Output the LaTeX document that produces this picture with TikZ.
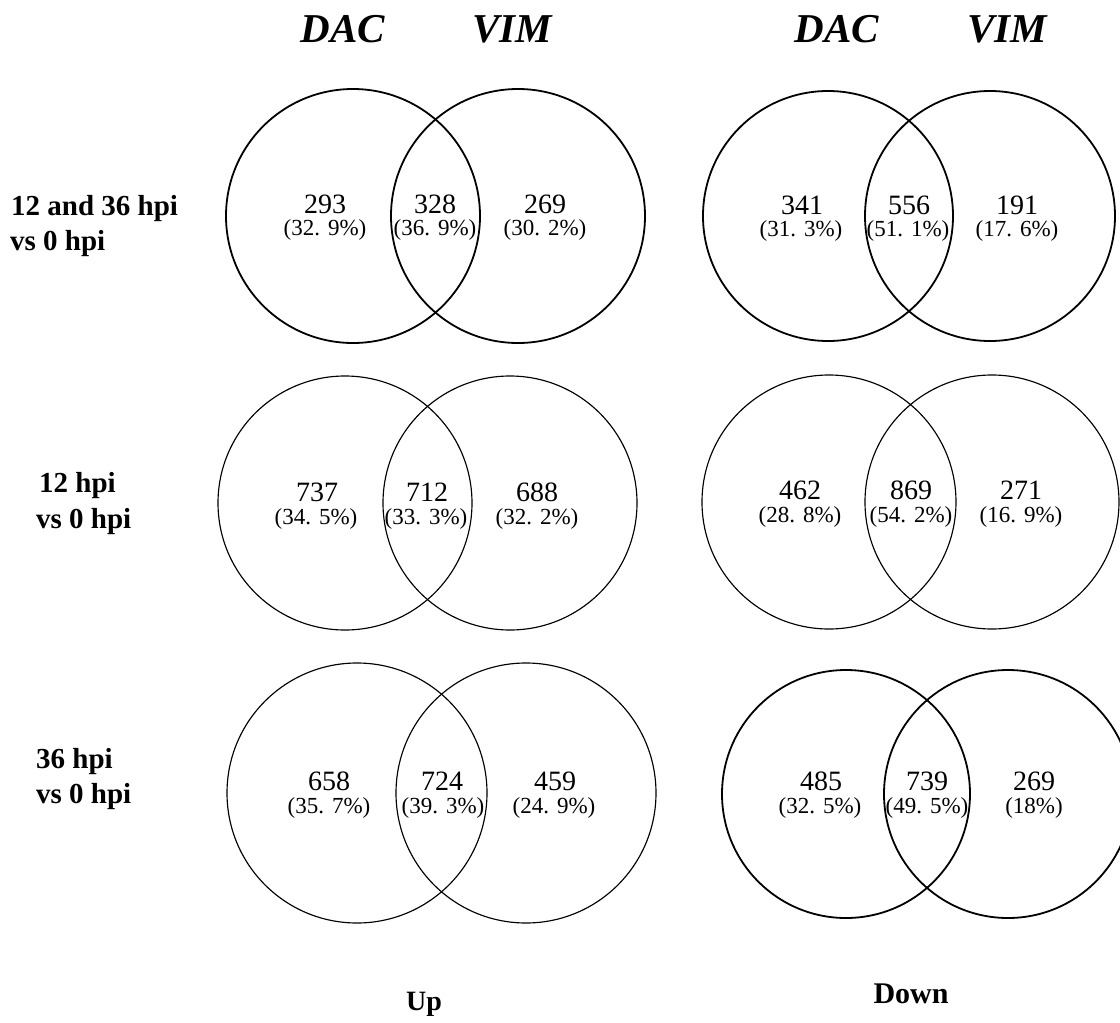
\documentclass[tikz,border=0pt]{standalone}
\usepackage{fontspec}
\setmainfont{Liberation Serif}
\newcommand\pcv[2]{(#1.\kern0.35em#2\%)}
\begin{document}
\begin{tikzpicture}[x=1pt,y=-1pt,
  venn/.style={circle, draw=black, inner sep=0pt, minimum size=#1},
  vthick/.style={line width=1.8pt},
  vthin/.style={line width=1.15pt},
  num/.style={anchor=base, inner sep=0pt, font=\fontsize{28}{30}\selectfont},
  pct/.style={anchor=base, inner sep=0pt, font=\fontsize{23}{25}\selectfont},
  ttl/.style={anchor=base, inner sep=0pt, font=\fontsize{41}{44}\selectfont\bfseries\itshape},
  rowlbl/.style={anchor=base west, inner sep=0pt, font=\fontsize{29}{31}\selectfont\bfseries},
  foot/.style={anchor=base, inner sep=0pt, font=\fontsize{28}{30}\selectfont\bfseries}]
\useasboundingbox (0,0) rectangle (1120,1023);
\clip (0,0) rectangle (1120,1023);

% titles
\node[ttl] (t1) at (343,42) {DAC};
\node[ttl] (t2) at (512,42) {VIM};
\node[ttl] (t3) at (837,42) {DAC};
\node[ttl] (t4) at (1007,42) {VIM};

% row labels
\node[rowlbl] (r1a) at (11,215) {12 and 36 hpi};
\node[rowlbl] (r1b) at (10,250) {vs 0 hpi};
\node[rowlbl] (r2a) at (39,492) {12 hpi};
\node[rowlbl] (r2b) at (36,528) {vs 0 hpi};
\node[rowlbl] (r3a) at (36,768) {36 hpi};
\node[rowlbl] (r3b) at (36,803) {vs 0 hpi};

% row 1 circles
\node[venn=254pt, vthick] (c1ul) at (353,216) {};
\node[venn=254pt, vthick] (c1ur) at (518,216) {};
\node[venn=250pt, vthick] (c1dl) at (828,216) {};
\node[venn=250pt, vthick] (c1dr) at (990,216) {};
% row 2 circles
\node[venn=254pt, vthin] (c2ul) at (345,503) {};
\node[venn=254pt, vthin] (c2ur) at (510,503) {};
\node[venn=254pt, vthin] (c2dl) at (829,502) {};
\node[venn=254pt, vthin] (c2dr) at (992,502) {};
% row 3 circles
\node[venn=260pt, vthin] (c3ul) at (357,793) {};
\node[venn=260pt, vthin] (c3ur) at (526,793) {};
\node[venn=248pt, vthick] (c3dl) at (846,794) {};
\node[venn=248pt, vthick] (c3dr) at (1008,794) {};

% row 1 up
\node[num] (n1) at (325,213) {293};  \node[pct] (p1) at (325,235) {\pcv{32}{9}};
\node[num] (n2) at (435,213) {328};  \node[pct] (p2) at (435,235) {\pcv{36}{9}};
\node[num] (n3) at (545,213) {269};  \node[pct] (p3) at (545,235) {\pcv{30}{2}};
% row 1 down
\node[num] (n4) at (802,214) {341};  \node[pct] (p4) at (801,236) {\pcv{31}{3}};
\node[num] (n5) at (909,214) {556};  \node[pct] (p5) at (908,236) {\pcv{51}{1}};
\node[num] (n6) at (1017,214) {191}; \node[pct] (p6) at (1017,236) {\pcv{17}{6}};
% row 2 up
\node[num] (n7) at (317,501) {737};  \node[pct] (p7) at (316,524) {\pcv{34}{5}};
\node[num] (n8) at (427,501) {712};  \node[pct] (p8) at (426,524) {\pcv{33}{3}};
\node[num] (n9) at (537,501) {688};  \node[pct] (p9) at (537,524) {\pcv{32}{2}};
% row 2 down
\node[num] (n10) at (800,499) {462};  \node[pct] (p10) at (800,522) {\pcv{28}{8}};
\node[num] (n11) at (911,499) {869};  \node[pct] (p11) at (911,522) {\pcv{54}{2}};
\node[num] (n12) at (1021,499) {271}; \node[pct] (p12) at (1021,522) {\pcv{16}{9}};
% row 3 up
\node[num] (n13) at (329,790) {658};  \node[pct] (p13) at (329,813) {\pcv{35}{7}};
\node[num] (n14) at (442,790) {724};  \node[pct] (p14) at (443,813) {\pcv{39}{3}};
\node[num] (n15) at (555,790) {459};  \node[pct] (p15) at (554,813) {\pcv{24}{9}};
% row 3 down
\node[num] (n16) at (821,790) {485};  \node[pct] (p16) at (820,813) {\pcv{32}{5}};
\node[num] (n17) at (927,790) {739};  \node[pct] (p17) at (927,813) {\pcv{49}{5}};
\node[num] (n18) at (1034,790) {269}; \node[pct] (p18) at (1034,813) {(18\%)};

% footers
\node[foot] (up) at (424,1010) {Up};
\node[foot, font=\fontsize{30}{32}\selectfont\bfseries] (down) at (911,1003) {Down};
\end{tikzpicture}
\end{document}
